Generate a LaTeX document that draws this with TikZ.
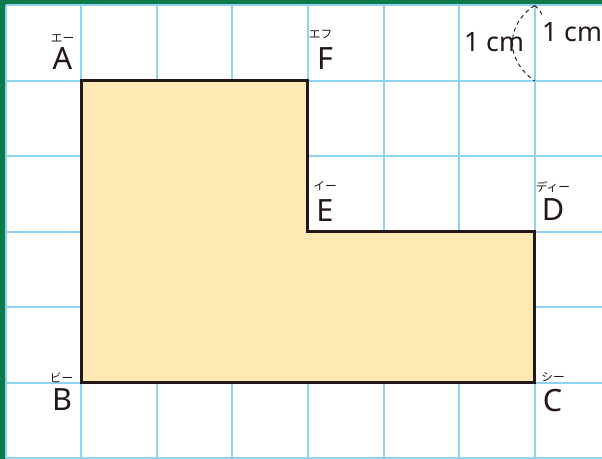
\documentclass[tikz,border=0pt]{standalone}
\usepackage{fontspec}
\setmainfont{Noto Sans}
\newfontfamily\jp{Noto Sans CJK JP}
\definecolor{bggreen}{HTML}{0E7A4A}
\definecolor{gridblue}{HTML}{8ED4F2}
\definecolor{shapefill}{HTML}{FEE9B5}
\definecolor{ink}{HTML}{231815}
\begin{document}
\begin{tikzpicture}[x=0.75pt,y=-0.75pt,
  letter/.style={font=\fontsize{23}{23}\selectfont, text=ink, anchor=base, inner sep=0pt},
  kana/.style={font=\jp\fontsize{8.8}{8.8}\selectfont, text=ink, anchor=base, inner sep=0pt},
  unitlabel/.style={font=\fontsize{20}{20}\selectfont, text=ink, anchor=base, inner sep=0pt},
  gridline/.style={draw=gridblue, line width=1.5pt},
  outline/.style={draw=ink, line width=2.3pt, fill=shapefill, line join=miter},
  arcline/.style={draw=ink, line width=0.7pt, dash pattern=on 3pt off 2.6pt}]
\useasboundingbox (0,0) rectangle (602,459);
\fill[bggreen] (0,0) rectangle (602,459);
\fill[white] (5.5,5.5) rectangle (603,460);
\foreach \i in {0,...,7} \draw[gridline] ({5.5+75.6*\i},5.5) -- ({5.5+75.6*\i},460);
\foreach \j in {0,...,6} \draw[gridline] (5.5,{5.5+75.4*\j}) -- (603,{5.5+75.4*\j});
% shape corners
\coordinate (A) at (81.1,80.9);
\coordinate (F) at (307.9,80.9);
\coordinate (E) at (307.9,231.7);
\coordinate (D) at (534.7,231.7);
\coordinate (C) at (534.7,382.5);
\coordinate (B) at (81.1,382.5);
\draw[outline] (A) -- (F) -- (E) -- (D) -- (C) -- (B) -- cycle;
% letters
\node[letter] (lA) at (62.5,70) {A};
\node[letter] (lF) at (325,70) {F};
\node[letter] (lE) at (325,222) {E};
\node[letter] (lD) at (553,221) {D};
\node[letter] (lB) at (62,410) {B};
\node[letter] (lC) at (552.5,411) {C};
% kana
\node[kana] (kA) at (62.5,43) {エー};
\node[kana] (kF) at (320.5,39) {エフ};
\node[kana] (kE) at (325,191) {イー};
\node[kana] (kD) at (553,192) {ディー};
\node[kana] (kB) at (61.5,382) {ビー};
\node[kana] (kC) at (553,381) {シー};
% unit marks
\coordinate (u0) at (534.7,5.5);
\coordinate (u1) at (534.7,80.9);
\coordinate (u2) at (543,16);
\draw[arcline] (u0) .. controls (505,25) and (505,60) .. (u1);
\draw[arcline] (u0) .. controls (538,8) .. (u2);
\node[unitlabel] (cm1) at (494,52) {1 cm};
\node[unitlabel] (cm2) at (572,42) {1 cm};
\end{tikzpicture}
\end{document}
